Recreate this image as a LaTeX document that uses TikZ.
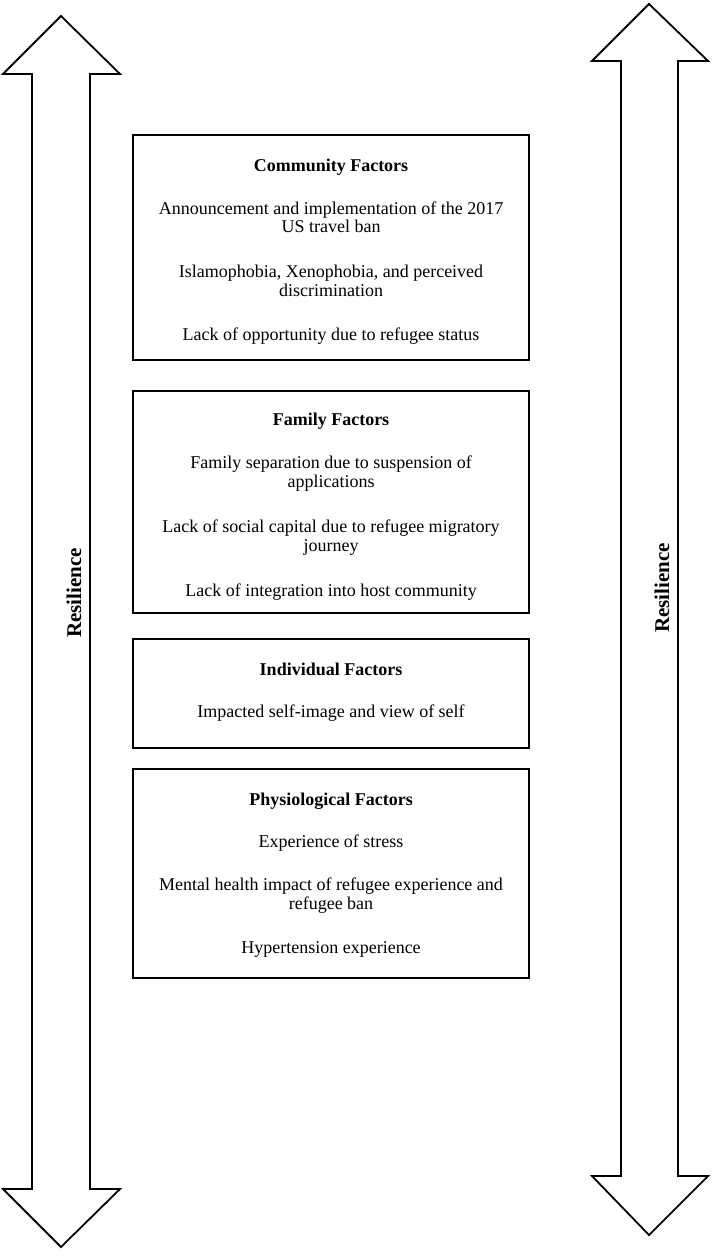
\documentclass[tikz,border=0pt]{standalone}
\usepackage{fontspec}
\setmainfont{Liberation Serif}
\begin{document}
\begin{tikzpicture}[x=1pt,y=-1pt,
  box/.style={draw, line width=1.8pt, rectangle, inner sep=0pt},
  arrowshape/.style={draw, line width=1.8pt, line join=miter},
  txt/.style={anchor=base, inner sep=0pt, font=\fontsize{18}{18.5}\selectfont},
  head/.style={anchor=base, inner sep=0pt, font=\fontsize{18}{18.5}\selectfont\bfseries},
  res/.style={rotate=90, inner sep=0pt, font=\fontsize{21}{24}\selectfont\bfseries}]
\useasboundingbox (0,0) rectangle (715,1257);

% double arrows
\draw[arrowshape] (61,16) -- (120,74) -- (90,74) -- (90,1189) -- (120,1189) -- (61,1247)
  -- (3,1189) -- (32,1189) -- (32,74) -- (3,74) -- cycle;
\draw[arrowshape] (649,4) -- (708,61) -- (678,61) -- (678,1176) -- (708,1176) -- (649,1235)
  -- (592,1176) -- (621,1176) -- (621,61) -- (592,61) -- cycle;
\node[res] (resL) at (74,593) {Resilience};
\node[res] (resR) at (662,588) {Resilience};

% boxes
\node[box, minimum width=396pt, minimum height=225pt] (community) at (331,247.5) {};
\node[box, minimum width=396pt, minimum height=222pt] (family) at (331,502) {};
\node[box, minimum width=396pt, minimum height=109pt] (individual) at (331,693.5) {};
\node[box, minimum width=396pt, minimum height=209pt] (physio) at (331,873.5) {};

% community
\node[head] (c0) at (331,172) {Community Factors};
\node[txt] (c1) at (331,215) {Announcement and implementation of the 2017};
\node[txt] (c1b) at (331,233) {US travel ban};
\node[txt] (c2) at (331,277) {Islamophobia, Xenophobia, and perceived};
\node[txt] (c2b) at (331,296) {discrimination};
\node[txt] (c3) at (331,340) {Lack of opportunity due to refugee status};

% family
\node[head] (f0) at (331,425) {Family Factors};
\node[txt] (f1) at (331,468) {Family separation due to suspension of};
\node[txt] (f1b) at (331,487) {applications};
\node[txt] (f2) at (331,532) {Lack of social capital due to refugee migratory};
\node[txt] (f2b) at (331,551) {journey};
\node[txt] (f3) at (331,596) {Lack of integration into host community};

% individual
\node[head] (i0) at (331,675) {Individual Factors};
\node[txt] (i1) at (331,717) {Impacted self-image and view of self};

% physiological
\node[head] (p0) at (331,805) {Physiological Factors};
\node[txt] (p1) at (331,847) {Experience of stress};
\node[txt] (p2) at (331,890) {Mental health impact of refugee experience and};
\node[txt] (p2b) at (331,909) {refugee ban};
\node[txt] (p3) at (331,953) {Hypertension experience};
\end{tikzpicture}
\end{document}
